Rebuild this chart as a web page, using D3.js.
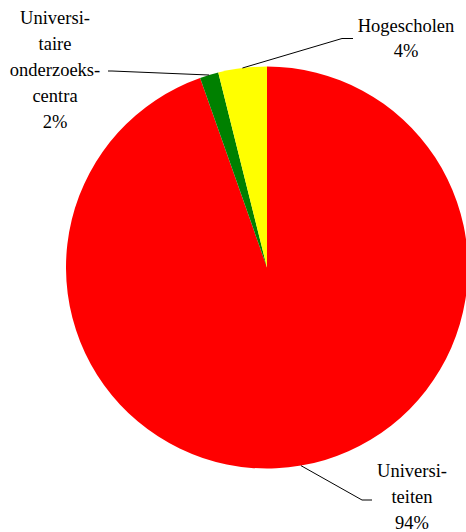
<!DOCTYPE html>
<html>
<head>
<meta charset="utf-8">
<script src="https://cdn.jsdelivr.net/npm/d3@7"></script>
<style>
  html, body { margin: 0; padding: 0; background: #fff; }
  svg { display: block; }
</style>
</head>
<body>
<svg id="chart" width="466" height="532"></svg>
<script>
// Data
const categories = ["Universiteiten", "Universitaire onderzoekscentra", "Hogescholen"];
const values = [94.6, 1.5, 3.9];
const percentLabels = ["94%", "2%", "4%"];
const labelLines = [
  ["Universi-", "teiten", "94%"],
  ["Universi-", "taire", "onderzoeks-", "centra", "2%"],
  ["Hogescholen", "4%"]
];
const colors = ["#FF0000", "#008000", "#FFFF00"];

// Layout
const cx = 267, cy = 267.5, r = 201;
const labelLayout = [
  { x: 412, y: 477, lh: 26, elbow: [362, 500], end: [372, 500] },
  { x: 55, y: 24, lh: 26, elbow: [112, 71], end: [108, 71] },
  { x: 406, y: 32, lh: 24.5, elbow: [342, 38.5], end: [353, 38.5] }
];

const svg = d3.select("#chart");
const g = svg.append("g").attr("transform", `translate(${cx},${cy})`);

const pie = d3.pie().sort(null).value(d => d)(values);
const arc = d3.arc().innerRadius(0).outerRadius(r);

g.selectAll("path.slice")
  .data(pie)
  .enter().append("path")
  .attr("class", "slice")
  .attr("d", arc)
  .attr("fill", (d, i) => colors[i]);

// Leader lines
const edge = d3.arc().innerRadius(r).outerRadius(r);
pie.forEach((d, i) => {
  const [px, py] = edge.centroid(d);
  const L = labelLayout[i];
  svg.append("polyline")
    .attr("points", [[px + cx, py + cy], L.elbow, L.end].map(p => p.join(",")).join(" "))
    .attr("fill", "none")
    .attr("stroke", "#000")
    .attr("stroke-width", 1);
});

// Labels
labelLines.forEach((lines, i) => {
  const L = labelLayout[i];
  const t = svg.append("text")
    .attr("text-anchor", "middle")
    .attr("font-family", "'Liberation Serif', 'Times New Roman', serif")
    .attr("font-size", 18.5)
    .attr("fill", "#000");
  lines.forEach((s, j) => {
    t.append("tspan").attr("x", L.x).attr("y", L.y + j * L.lh).text(s);
  });
});
</script>
</body>
</html>
